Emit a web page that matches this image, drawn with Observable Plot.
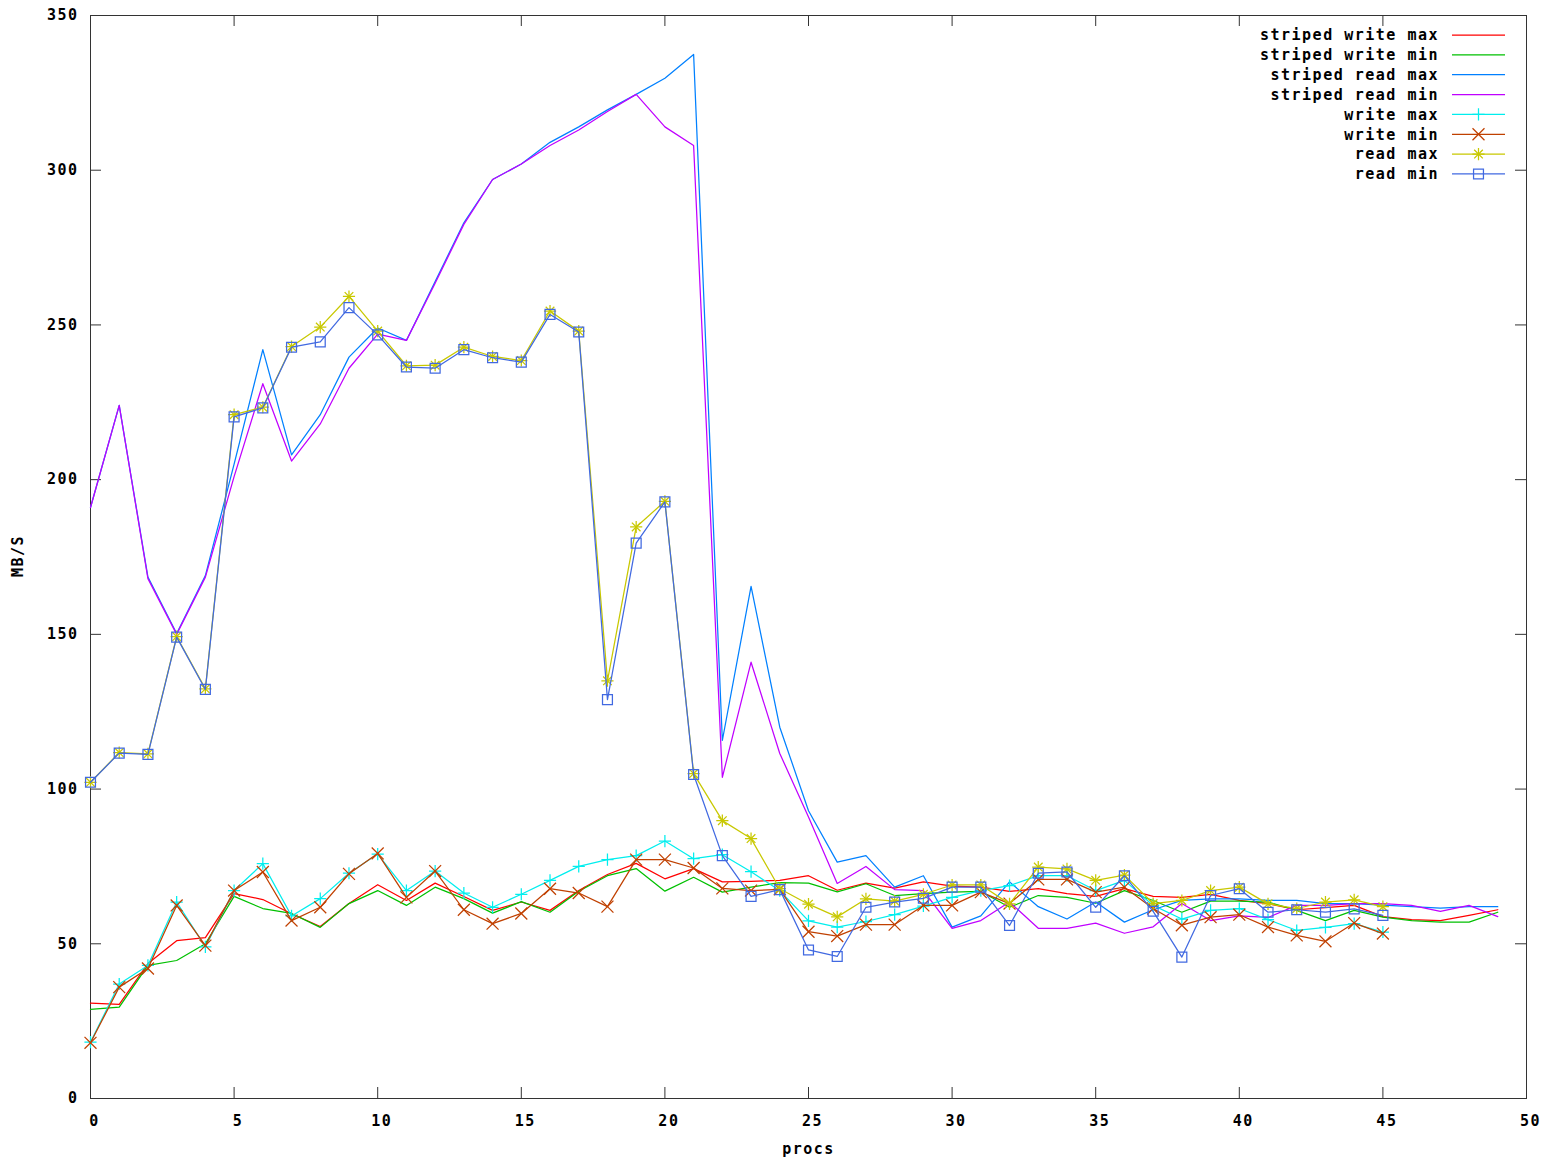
<!DOCTYPE html>
<html>
<head>
<meta charset="utf-8">
<script src="https://cdn.jsdelivr.net/npm/d3@7"></script>
<script src="https://cdn.jsdelivr.net/npm/@observablehq/plot@0.6"></script>
<style>
  body { margin: 0; background: #fff; }
  #chart { width: 1542px; height: 1169px; }
</style>
</head>
<body>
<div id="chart"></div>
<script>
// Process counts (x) for the striped runs and the plain runs
const procsStriped = [0,1,2,3,4,5,6,7,8,9,10,11,12,13,14,15,16,17,18,19,20,21,22,23,24,25,26,27,28,29,30,31,32,33,34,35,36,37,38,39,40,41,42,43,44,45,46,47,48,49];
const procs = [0,1,2,3,4,5,6,7,8,9,10,11,12,13,14,15,16,17,18,19,20,21,22,23,24,25,26,27,28,29,30,31,32,33,34,35,36,37,38,39,40,41,42,43,44,45];

// Throughput in MB/s
const stripedWriteMax = [30.8,30.4,43.6,51,52,66.2,64.3,59.7,55.6,63,69.1,64,69.6,65.3,60.8,63.5,60.8,67.2,72.4,76,71,74.3,70,70.2,70.5,72,67.3,69.6,68,70,68.6,68.3,66.9,67.8,66.2,65.3,67.8,65.3,65,66,64,63,61,61.7,62.4,58.8,57.8,57.5,59.2,61];
const stripedWriteMin = [28.8,29.5,43,44.6,50,65.3,61.4,59.8,55.3,63,67.2,62.4,68.3,64.6,59.9,63.6,60.2,67,72,74.3,67,71.5,66.7,68.3,69.8,69.6,66.8,69.4,65.6,66.2,66.7,66.9,61.8,65.6,65,63.1,67.2,64,60.2,63.8,63.8,63.5,60.8,57.5,60.8,58.6,57.5,57,57,60.2];
const stripedReadMax = [191,224,168.5,150.3,169,205,242,208,221,239.6,249,245,264,283,297,302,309,314,319.5,324.5,329.7,337.4,115.7,165.5,120,93,76.4,78.5,68.3,72,55.4,59,70,62,58,63.5,57,61,64,64.5,64.5,64,64,63,63,62.5,62,61.5,62,62];
const stripedReadMin = [191,224,168,150,168.5,201,231,206,218,236,247,245,263.5,282.5,297,302,308,313,319,324.5,314,308,103.8,141,111.5,91,69.5,75,67.5,67.2,55,57.5,63.5,55,55,56.7,53.4,55.5,63,57.5,59,58.5,62.4,62.4,63,63,62.4,60.5,62.4,58.8];
const writeMax = [18.2,37,43,63.5,49,67.2,75.9,59,64.6,72.8,79,67.2,73.5,66.4,61.8,66,70.5,75,77.2,78.5,83.2,77.5,78.8,73.3,67.2,57.4,55.4,57.2,59.4,62.2,65,67.2,68.8,72,72,67.2,70.5,62.4,58,60.8,61.4,57.8,54.3,55.3,56.5,53.8];
const writeMin = [18,36,42,62.4,49.4,67.2,73.2,57.5,61.8,72.6,79.2,65,73.5,61,56.5,59.8,67.8,66.4,62,77.2,77.2,74.5,67.9,67.2,67.6,53.9,52.5,56.2,56.2,62.4,62.4,66.7,63,70.8,70.8,66.7,68.3,61.4,56,58.6,59.4,55.4,52.7,50.8,56.7,53.3];
const readMax = [102.2,111.8,111.4,149.3,132.4,221,223.4,243,249.3,259.2,248,236.8,237,242.8,239.8,238.5,254.5,248,135,184.7,193,105,89.8,84,67.8,62.8,58.7,64.5,63.8,66,69,69,62.9,74.8,74.2,70.5,72.2,63,64,67.2,68.3,62.9,61.4,63.5,64.2,62];
const readMin = [102.2,111.6,111.2,149.1,132.2,220.3,223.2,242.8,244.5,255.6,246.8,236.4,236,242,239.4,238,253.4,247.7,128.9,179.5,192.8,104.7,78.5,65.3,67.5,48,45.9,61.8,63.5,64.7,68.3,68.3,55.9,72.8,73.2,61.8,72,60.5,45.7,65.6,67.8,60.2,61,60.2,61.3,59.2];

// Axis ticks
const yTicks = [0,50,100,150,200,250,300,350];
const xTicks = [0,5,10,15,20,25,30,35,40,45,50];

// Series names, colours and point symbols (gnuplot default line types)
const seriesNames = ["striped write max","striped write min","striped read max","striped read min","write max","write min","read max","read min"];
const seriesColors = ["#ff0000","#00c000","#0080ff","#c000ff","#00eeee","#c04000","#c8c800","#4169e1"];
const seriesX = [procsStriped, procsStriped, procsStriped, procsStriped, procs, procs, procs, procs];
const seriesY = [stripedWriteMax, stripedWriteMin, stripedReadMax, stripedReadMin, writeMax, writeMin, readMax, readMin];
const seriesSymbols = [[], [], [], [], [["plus",4]], [["times",5.5]], [["plus",4],["times",4]], [["square2",6.3]]];

const W = 1542, H = 1169;
const mL = 90, mR = 16, mT = 15, mB = 71;
const innerW = W - mL - mR, innerH = H - mT - mB;
const tickLen = 11;
const axisColor = "#333";
const lineWidth = 1.25;

const series = seriesNames.map((name, k) => ({
  name,
  color: seriesColors[k],
  symbols: seriesSymbols[k],
  rows: seriesX[k].map((p, i) => ({procs: p, value: seriesY[k][i]}))
}));

const marks = [
  Plot.frame({stroke: axisColor}),
  // inward ticks on all four sides
  Plot.tickY(yTicks, {y: d => d, insetRight: innerW - tickLen, stroke: axisColor}),
  Plot.tickY(yTicks, {y: d => d, insetLeft: innerW - tickLen, stroke: axisColor}),
  Plot.tickX(xTicks, {x: d => d, insetTop: innerH - tickLen, stroke: axisColor}),
  Plot.tickX(xTicks, {x: d => d, insetBottom: innerH - tickLen, stroke: axisColor}),
  Plot.axisY({ticks: yTicks, tickSize: 0, tickPadding: 12, label: null, fill: "#000"}),
  Plot.axisX({ticks: xTicks, tickSize: 0, tickPadding: 17, label: null, dx: 4, fill: "#000"})
];

for (const s of series) {
  marks.push(Plot.line(s.rows, {x: "procs", y: "value", stroke: s.color, strokeWidth: lineWidth}));
  for (const [sym, r] of s.symbols) {
    marks.push(Plot.dot(s.rows, {x: "procs", y: "value", symbol: sym, r, stroke: s.color, strokeWidth: lineWidth, fill: "none"}));
  }
}

marks.push(Plot.text(["MB/S"], {text: d => d, frameAnchor: "left", dx: -72, dy: 20, rotate: -90, fill: "#000"}));
marks.push(Plot.text(["procs"], {text: d => d, frameAnchor: "bottom", dy: 55, fill: "#000"}));

const chart = Plot.plot({
  width: W,
  height: H,
  marginLeft: mL,
  marginRight: mR,
  marginTop: mT,
  marginBottom: mB,
  x: {domain: [0, 50], label: null},
  y: {domain: [0, 350], label: null},
  style: {
    fontFamily: '"DejaVu Sans Mono", monospace',
    fontSize: "15px",
    fontWeight: "bold",
    letterSpacing: "1.5px",
    background: "#fff",
    color: "#000",
    overflow: "visible"
  },
  marks
});

// Key in the top-right corner of the plot area
const symbolTypes = {plus: d3.symbolPlus, times: d3.symbolTimes, square2: d3.symbolSquare2};
const legend = d3.select(chart).append("g");
const keyTextRight = W - mR - 87;
const keyLineLeft = W - mR - 74;
const keyLineRight = W - mR - 21;
const keyMid = (keyLineLeft + keyLineRight) / 2;
series.forEach((s, i) => {
  const yRow = 35 + i * 19.85;
  legend.append("text")
    .attr("x", keyTextRight).attr("y", yRow).attr("dy", "0.35em")
    .attr("text-anchor", "end").attr("fill", "#000")
    .text(s.name);
  legend.append("line")
    .attr("x1", keyLineLeft).attr("x2", keyLineRight)
    .attr("y1", yRow).attr("y2", yRow)
    .attr("stroke", s.color).attr("stroke-width", lineWidth);
  for (const [sym, r] of s.symbols) {
    legend.append("path")
      .attr("transform", `translate(${keyMid},${yRow})`)
      .attr("d", d3.symbol(symbolTypes[sym], Math.PI * r * r)())
      .attr("fill", "none").attr("stroke", s.color).attr("stroke-width", lineWidth);
  }
});

document.getElementById("chart").appendChild(chart);
</script>
</body>
</html>
